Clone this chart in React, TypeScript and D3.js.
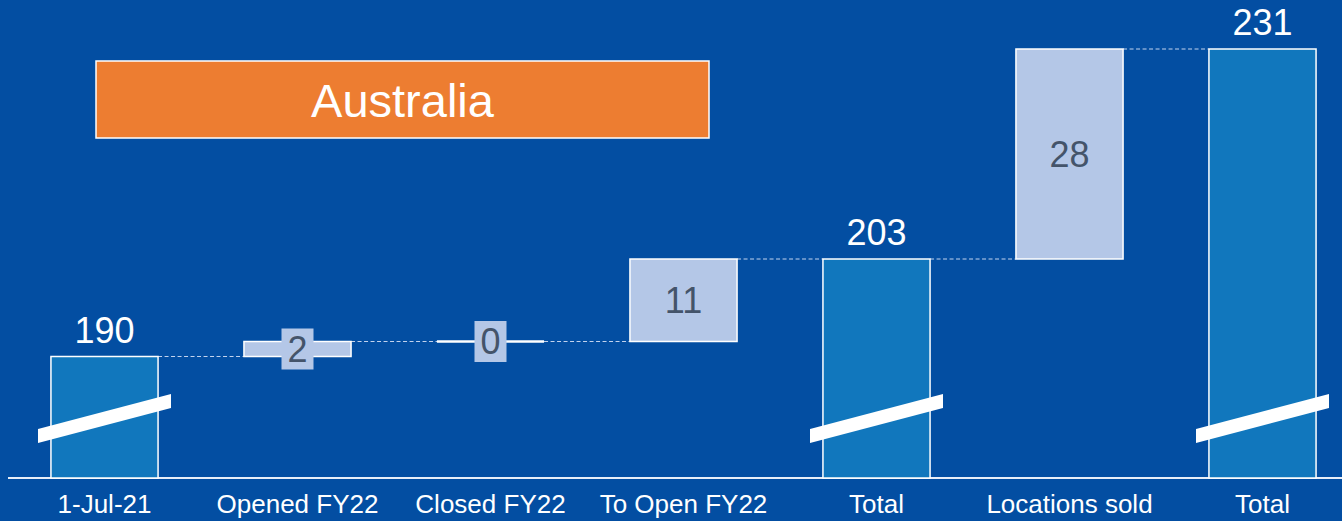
import React from "react";
import * as d3 from "d3";

const categories = ["1-Jul-21", "Opened FY22", "Closed FY22", "To Open FY22", "Total", "Locations sold", "Total"];
const values = [190, 2, 0, 11, 203, 28, 231];
const isTotal = [true, false, false, false, true, false, true];
const title = "Australia";

const W = 1342;
const H = 521;
const BG = "#034EA2";
const BAR = "#1177BD";
const LIGHT = "#B4C7E7";
const GRAY = "#44546A";
const ORANGE = "#ED7D31";
const FONT = "'Liberation Sans', Arial, sans-serif";

export default function App() {
  const x = d3.scaleBand<string>()
    .domain(categories.map((c, i) => i + ""))
    .range([8, 1359])
    .paddingInner(0.445)
    .paddingOuter(0.2225);
  const y = d3.scaleLinear().domain([173.8, 231]).range([478, 49]);
  const base = y.domain()[0];

  let running = 0;
  const bars = values.map((v, i) => {
    let start: number, end: number;
    if (isTotal[i]) {
      start = base;
      end = v;
      running = v;
    } else {
      start = running;
      end = running + v;
      running = end;
    }
    return { i, v, start, end, total: isTotal[i], cat: categories[i] };
  });

  const bw = x.bandwidth();

  return (
    <svg width={W} height={H} style={{ position: "absolute", left: 0, top: 0, display: "block" }}>
      <rect x={0} y={0} width={W} height={H} fill={BG} />
      {/* connectors */}
      {bars.slice(0, -1).map((b, k) => {
        const x1 = (x(k + "") as number) + bw;
        const x2 = x(k + 1 + "") as number;
        const yy = y(b.end);
        return (
          <line key={"c" + k} x1={x1} x2={x2} y1={yy} y2={yy}
            stroke="#C3D3EE" strokeWidth={1} strokeDasharray="4,2.5" />
        );
      })}
      {/* axis baseline */}
      <line x1={8} x2={W} y1={478} y2={478} stroke="#E8EEF8" strokeWidth={2} />
      {bars.map((b) => {
        const bx = x(b.i + "") as number;
        const top = y(Math.max(b.start, b.end));
        const bot = y(Math.min(b.start, b.end));
        const h = bot - top;
        const cx = bx + bw / 2;
        if (b.total) {
          const by = 418.5;
          const half = 66.5;
          const t = 7;
          const dy = 17.5;
          return (
            <g key={"b" + b.i}>
              <rect x={bx} y={top} width={bw} height={h} fill={BAR} stroke="#FFFFFF" strokeWidth={1.5} />
              <polygon
                points={`${cx - half},${by + dy - t} ${cx + half},${by - dy - t} ${cx + half},${by - dy + t} ${cx - half},${by + dy + t}`}
                fill="#FFFFFF" />
              <text x={cx} y={top - 14} textAnchor="middle" fill="#FFFFFF" fontFamily={FONT} fontSize={36}>{b.v}</text>
            </g>
          );
        }
        const cy = (top + bot) / 2;
        const small = h < 40;
        return (
          <g key={"b" + b.i}>
            {h > 0.5 ? (
              <rect x={bx} y={top} width={bw} height={h} fill={LIGHT} stroke="#FFFFFF" strokeWidth={1.5} />
            ) : (
              <line x1={bx} x2={bx + bw} y1={top} y2={top} stroke="#FFFFFF" strokeWidth={2.5} />
            )}
            {small && <rect x={cx - 16} y={cy - 20.5} width={32} height={41} fill={LIGHT} />}
            <text x={cx} y={cy} dy="0.35em" textAnchor="middle" fill={GRAY} fontFamily={FONT} fontSize={36}>{b.v}</text>
          </g>
        );
      })}
      {/* category labels */}
      {bars.map((b) => (
        <text key={"l" + b.i} x={(x(b.i + "") as number) + bw / 2} y={513} textAnchor="middle"
          fill="#FFFFFF" fontFamily={FONT} fontSize={26}>{b.cat}</text>
      ))}
      {/* title box */}
      <rect x={96} y={61} width={613} height={77} fill={ORANGE} stroke="#FFFFFF" strokeWidth={1.5} />
      <text x={402.5} y={117} textAnchor="middle" fill="#FFFFFF" fontFamily={FONT} fontSize={47}>{title}</text>
    </svg>
  );
}
